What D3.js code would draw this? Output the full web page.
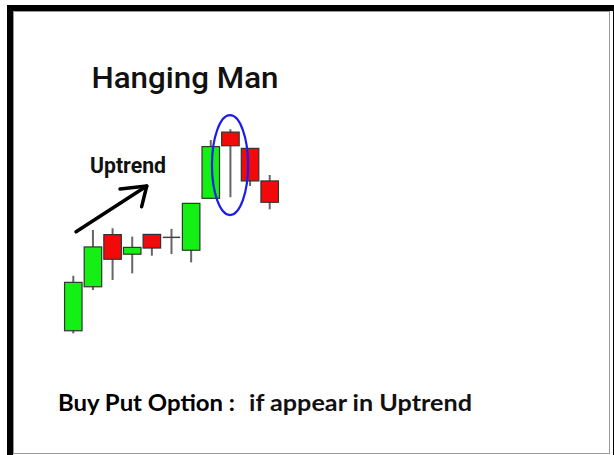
<!DOCTYPE html>
<html>
<head>
<meta charset="utf-8">
<script src="https://cdn.jsdelivr.net/npm/d3@7"></script>
<style>
  html, body { margin: 0; padding: 0; background: #fff; }
  svg { display: block; }
</style>
</head>
<body>
<svg id="chart"></svg>
<script>
// candle data: index order, open / close / high / low in price units
let opens  = [4.2, 24.2, 47.9, 39.0, 48.0, 47.0, 40.8, 64.4, 94.5, 87.1, 72.3];
let closes = [26.2, 42.3, 36.7, 42.1, 41.8, 47.0, 62.1, 87.9, 88.3, 72.3, 62.6];
let highs  = [29.2, 50.0, 50.8, 47.0, 48.0, 50.5, 62.1, 90.9, 95.8, 87.1, 75.0];
let lows   = [3.0, 22.7, 27.3, 30.3, 38.3, 39.1, 35.3, 64.4, 64.9, 70.0, 59.4];

// annotation positions in data units (index, price)
let arrowLine = [[0.14, 49.2], [3.74, 70.0]];
let arrowHead = [[2.38, 68.6], [3.74, 70.0], [3.48, 60.6]];
let highlight = {i: 8, p: 79.5, di: 0.92, dp: 22.7};

let title = "Hanging Man";
let trendLabel = "Uptrend";
let noteBold = "Buy Put Option :";
let noteText = "if appear in Uptrend";

let width = 614, height = 455;
let svg = d3.select('#chart').attr('width', width).attr('height', height);

let data = opens.map((o, i) => ({i: i, open: o, close: closes[i], high: highs[i], low: lows[i]}));

let x = d3.scaleLinear().domain([0, 10]).range([73.3, 269.7]);
let y = d3.scaleLinear().domain([0, 100]).range([340, 120]);
let bodyW = 17.5;

// frame
svg.append('rect').attr('x', 10).attr('y', 8).attr('width', 606).attr('height', 460)
    .attr('fill', 'none').attr('stroke', '#000').attr('stroke-width', 6);
svg.append('rect').attr('x', 13.5).attr('y', 11.5).attr('width', 596).attr('height', 442)
    .attr('fill', 'none').attr('stroke', '#999').attr('stroke-width', 1);

svg.append('text').attr('x', 91.5).attr('y', 88)
    .attr('font-family', 'Roboto').attr('font-weight', 500).attr('font-size', 30)
    .attr('fill', '#111').attr('textLength', 187).attr('lengthAdjust', 'spacingAndGlyphs')
    .text(title);

svg.append('text').attr('x', 90).attr('y', 173)
    .attr('font-family', 'Roboto').attr('font-weight', 700).attr('font-size', 21.5)
    .attr('fill', '#111').attr('textLength', 76).attr('lengthAdjust', 'spacingAndGlyphs')
    .text(trendLabel);

// arrow
let line = d3.line().x(d => x(d[0])).y(d => y(d[1]));
svg.append('path').attr('d', line(arrowLine))
    .attr('stroke', '#000').attr('stroke-width', 3.5).attr('fill', 'none').attr('stroke-linecap', 'round');
svg.append('path').attr('d', line(arrowHead))
    .attr('stroke', '#000').attr('stroke-width', 3.5).attr('fill', 'none')
    .attr('stroke-linecap', 'round').attr('stroke-linejoin', 'round');

// candles
let g = svg.append('g');
let candle = g.selectAll('g').data(data).enter().append('g');
candle.append('line')
    .attr('x1', d => x(d.i)).attr('x2', d => x(d.i))
    .attr('y1', d => y(d.high)).attr('y2', d => y(d.low))
    .attr('stroke', '#666').attr('stroke-width', 2);
candle.append('rect')
    .attr('x', d => x(d.i) - bodyW / 2)
    .attr('width', bodyW)
    .attr('y', d => y(Math.max(d.open, d.close)))
    .attr('height', d => Math.max(1.5, Math.abs(y(d.open) - y(d.close))))
    .attr('fill', d => d.close > d.open ? '#14f014' : (d.close < d.open ? '#f20a0a' : '#444'))
    .attr('stroke', d => d.close === d.open ? 'none' : '#333')
    .attr('stroke-width', 1.2);

// highlight ellipse round the hanging man
svg.append('ellipse')
    .attr('cx', x(highlight.i) - 0.4).attr('cy', y(highlight.p))
    .attr('rx', x(highlight.di) - x(0)).attr('ry', y(0) - y(highlight.dp))
    .attr('fill', 'none').attr('stroke', '#1c1cf0').attr('stroke-width', 2.2);

svg.append('text').attr('x', 58).attr('y', 411)
    .attr('font-family', 'Lato').attr('font-weight', 700).attr('font-size', 22)
    .attr('fill', '#000').attr('textLength', 177).attr('lengthAdjust', 'spacingAndGlyphs')
    .text(noteBold);
svg.append('text').attr('x', 249).attr('y', 411)
    .attr('font-family', 'Lato').attr('font-weight', 700).attr('font-size', 22)
    .attr('fill', '#111').attr('textLength', 223).attr('lengthAdjust', 'spacingAndGlyphs')
    .text(noteText);
</script>
</body>
</html>
